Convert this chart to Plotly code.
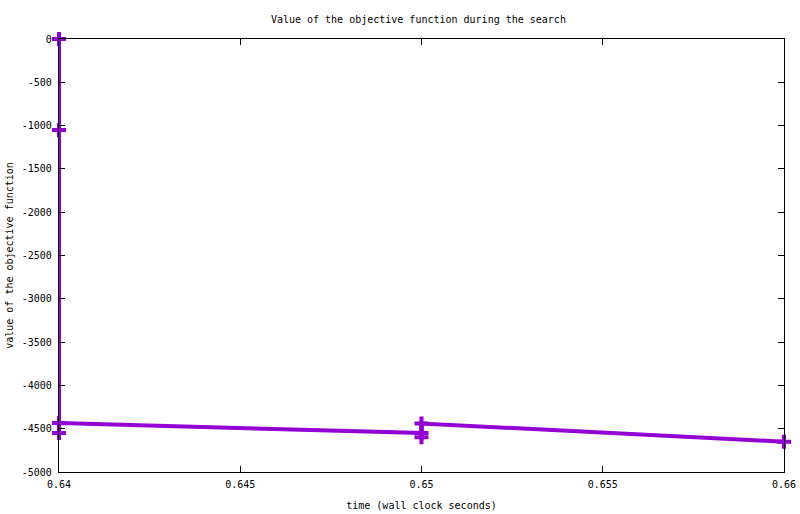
import plotly.graph_objects as go

# time (wall clock seconds) and objective value, in search order
time_s = [0.64, 0.64, 0.64, 0.64, 0.65, 0.65, 0.65, 0.66]
objective = [0, -1050, -4550, -4435, -4550, -4600, -4440, -4650]

x_ticks = [0.64, 0.645, 0.65, 0.655, 0.66]
y_ticks = [0, -500, -1000, -1500, -2000, -2500, -3000, -3500, -4000, -4500, -5000]

font = dict(family="DejaVu Sans Mono", size=10, color="black")

fig = go.Figure(go.Scatter(
    x=time_s, y=objective,
    mode="lines+markers",
    line=dict(color="#9400D3", width=4),
    marker=dict(symbol="cross-thin", size=10, line=dict(color="#9400D3", width=4)),
    cliponaxis=False,
    showlegend=False,
))

axis_common = dict(
    showline=True, linecolor="black", linewidth=1.2, mirror="ticks",
    ticks="inside", ticklen=6, tickcolor="black", tickwidth=1,
    showgrid=False, zeroline=False, tickfont=font, automargin=False,
)

fig.update_layout(
    width=800, height=514,
    margin=dict(l=59, r=16, t=39, b=42),
    paper_bgcolor="white", plot_bgcolor="white",
    font=font,
    title=dict(text="Value of the objective function during the search",
               x=0.523, xanchor="center", y=0.963, yanchor="middle", font=font),
    xaxis=dict(range=[0.64, 0.66], tickvals=x_ticks,
               ticktext=[f"{v:g}" for v in x_ticks], ticklabelstandoff=3,
               title=dict(text="time (wall clock seconds)", font=font, standoff=12),
               **axis_common),
    yaxis=dict(range=[-5000, 0], tickvals=y_ticks,
               ticktext=[f"{v:g}" for v in y_ticks], ticklabelstandoff=4,
               title=dict(text="value of the objective function", font=font, standoff=6),
               **axis_common),
)

# drop the default 8px body margin so the figure fills the window exactly
fig.write_html("out.html", config={"displayModeBar": False},
               post_script="document.body.style.margin='0';document.body.style.overflow='hidden';")
